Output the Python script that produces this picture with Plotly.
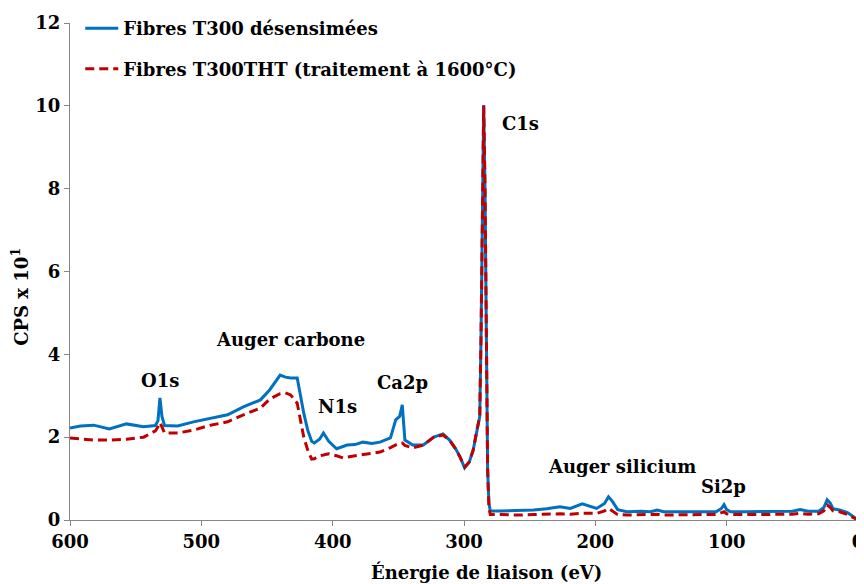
import plotly.graph_objects as go

energy_ev = [600, 592, 582, 570, 557, 544, 535, 533, 531.5, 530, 528, 518, 506, 493, 480, 468, 455, 448,
             440, 436, 432, 427, 422, 419, 416, 414, 410, 407, 403, 397, 392, 389, 383, 377, 370, 364,
             356, 352, 349, 347, 345, 339, 331, 323, 316, 311, 306, 303, 299.5, 296, 293, 290, 288, 287,
             286, 285, 284, 283, 282, 281, 280, 272, 260, 247, 237, 227, 219, 210, 199, 193, 190, 187,
             183, 176, 165, 158, 153, 148, 135, 120, 108, 104, 102, 100, 97, 85, 70, 60, 50, 44, 38, 30,
             26, 23.5, 21, 19, 14, 8, 4, 0]

cps_desensimees = [2.22, 2.27, 2.29, 2.20, 2.32, 2.25, 2.28, 2.40, 2.95, 2.50, 2.28, 2.27, 2.37, 2.46, 2.54,
                   2.73, 2.90, 3.14, 3.50, 3.45, 3.43, 3.43, 2.58, 2.17, 1.90, 1.86, 1.95, 2.10, 1.90, 1.72,
                   1.78, 1.81, 1.82, 1.88, 1.85, 1.88, 1.98, 2.42, 2.50, 2.78, 1.93, 1.81, 1.81, 2.00, 2.08,
                   1.93, 1.70, 1.52, 1.26, 1.40, 1.69, 2.20, 2.50, 4.50, 8.00, 10.02, 8.00, 4.00, 1.20, 0.40,
                   0.22, 0.22, 0.23, 0.24, 0.27, 0.32, 0.28, 0.39, 0.28, 0.40, 0.56, 0.45, 0.25, 0.20, 0.21,
                   0.20, 0.24, 0.20, 0.20, 0.20, 0.20, 0.28, 0.37, 0.25, 0.20, 0.20, 0.21, 0.21, 0.21, 0.25,
                   0.21, 0.21, 0.30, 0.49, 0.40, 0.27, 0.24, 0.18, 0.10, 0.00]

cps_tht = [1.98, 1.95, 1.93, 1.93, 1.95, 2.00, 2.15, 2.25, 2.35, 2.25, 2.10, 2.10, 2.17, 2.29, 2.37,
           2.54, 2.70, 2.92, 3.05, 3.07, 3.02, 2.82, 2.00, 1.69, 1.47, 1.48, 1.55, 1.57, 1.60, 1.55,
           1.50, 1.52, 1.55, 1.57, 1.60, 1.64, 1.75, 1.82, 1.86, 1.86, 1.80, 1.74, 1.81, 2.00, 2.05,
           1.93, 1.70, 1.52, 1.28, 1.40, 1.69, 2.20, 2.50, 4.50, 8.00, 10.00, 8.00, 4.00, 1.20, 0.30,
           0.13, 0.13, 0.12, 0.13, 0.14, 0.15, 0.14, 0.16, 0.16, 0.22, 0.28, 0.22, 0.13, 0.12, 0.13,
           0.12, 0.14, 0.12, 0.13, 0.13, 0.13, 0.17, 0.20, 0.15, 0.13, 0.13, 0.14, 0.13, 0.14, 0.16,
           0.14, 0.15, 0.22, 0.36, 0.30, 0.22, 0.20, 0.13, 0.07, 0.00]

series_names = ["Fibres T300 désensimées", "Fibres T300THT (traitement à 1600°C)"]

peak_labels = ["O1s", "Auger carbone", "N1s", "Ca2p", "C1s", "Auger silicium", "Si2p"]
peak_label_x = [531.5, 432.4, 396.6, 347.1, 257.3, 179.6, 102.7]
peak_label_y = [3.38, 4.35, 2.73, 3.31, 9.57, 1.30, 0.80]

x_title = "Énergie de liaison (eV)"
y_title = "CPS x 10<sup>1</sup>"

x_ticks = [600, 500, 400, 300, 200, 100, 0]
y_ticks = [0, 2, 4, 6, 8, 10, 12]

FONT = "DejaVu Serif"
fs = 18
bold_font = dict(family=FONT, size=fs, color="black", weight="bold")

fig = go.Figure()
fig.add_trace(go.Scatter(x=energy_ev, y=cps_desensimees, mode="lines", name=series_names[0],
                         legendgroup="a",
                         line=dict(color="#0070C0", width=3)))
fig.add_trace(go.Scatter(x=energy_ev, y=cps_tht, mode="lines", name=series_names[1],
                         legendgroup="b",
                         line=dict(color="#C00000", width=3, dash="9px,5px")))

for t, xx, yy in zip(peak_labels, peak_label_x, peak_label_y):
    fig.add_annotation(x=xx, y=yy, text=t, showarrow=False, font=bold_font)

# axis titles placed precisely
fig.add_annotation(xref="paper", yref="paper", x=0.529, y=-0.1046, text=x_title,
                   showarrow=False, xanchor="center", yanchor="middle", font=bold_font)
fig.add_annotation(xref="paper", yref="paper", x=-0.0635, y=0.449, text=y_title,
                   showarrow=False, xanchor="center", yanchor="middle", textangle=-90, font=bold_font)

axis_common = dict(showline=True, linecolor="#868686", linewidth=1, ticks="outside",
                   tickcolor="#868686", ticklen=5, showgrid=False, zeroline=False,
                   automargin=False, tickfont=bold_font)

fig.update_layout(
    width=864, height=584,
    margin=dict(l=62, r=14, t=15, b=72, autoexpand=False),
    paper_bgcolor="white", plot_bgcolor="white",
    font=dict(family=FONT, size=fs, color="black"),
    showlegend=True,
    legend=dict(x=0.013, y=1.026, xanchor="left", yanchor="top", bgcolor="rgba(0,0,0,0)",
                traceorder="grouped", tracegroupgap=14, itemwidth=33, font=bold_font),
    xaxis=dict(range=[600, 0], tickvals=x_ticks, **axis_common),
    yaxis=dict(range=[0, 12], tickvals=y_ticks, **axis_common),
)

fig.write_html("out.html")
